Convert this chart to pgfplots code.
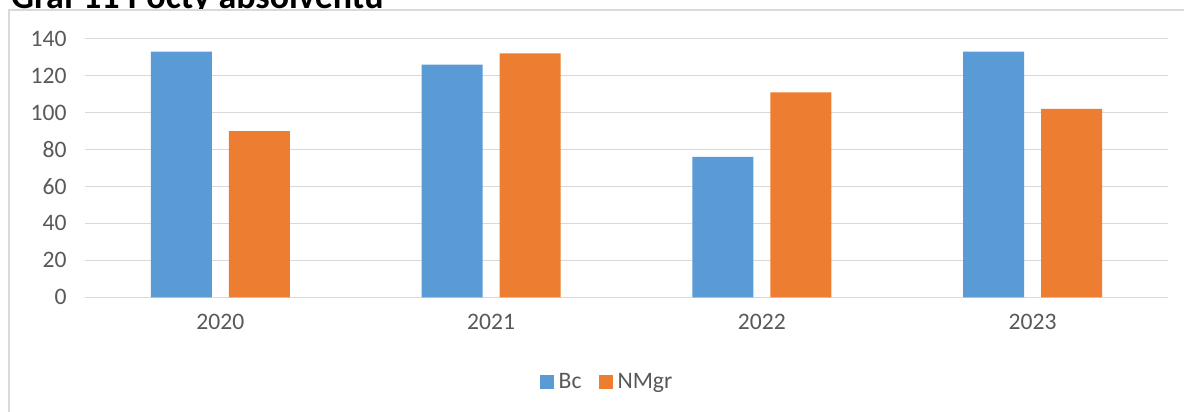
\documentclass[border=0pt]{standalone}
\usepackage{fontspec}
\setmainfont{Carlito}
\usepackage{pgfplots}
\pgfplotsset{compat=1.18}
\definecolor{bcblue}{HTML}{5B9BD5}
\definecolor{nmorange}{HTML}{ED7D31}
\definecolor{gridgray}{HTML}{D9D9D9}
\definecolor{txtgray}{HTML}{595959}
\begin{document}
\begin{tikzpicture}[x=1pt,y=1pt]
\useasboundingbox (0,0) rectangle (1184,412);
\clip (0,0) rectangle (1184,412);
\node[anchor=base west, inner sep=0pt, font=\fontsize{36}{40}\selectfont\bfseries] at (11,403.5) {Graf 11 Počty absolventů};
\filldraw[fill=white, draw=gridgray, line width=1.3pt] (9,402) rectangle (1210,-20);
\begin{axis}[
 at={(85pt,114.7pt)}, anchor=south west,
 scale only axis, width=1083pt, height=258.6pt,
 xmin=-0.5, xmax=3.5, ymin=0, ymax=140,
 ybar=17pt, bar width=61pt,
 xtick={0,1,2,3}, xticklabels={2020,2021,2022,2023},
 ytick={0,20,40,60,80,100,120,140},
 ymajorgrids, grid style={gridgray, line width=1.3pt},
 axis line style={draw=none},
 major tick length=0pt,
 tick label style={font=\fontsize{23.6}{28}\selectfont, text=txtgray},
 /pgf/number format/assume math mode=true,
 xticklabel style={yshift=-13pt},
 yticklabel style={xshift=-15pt},
 legend style={at={(0.482,-0.3275)}, anchor=center, draw=none, fill=none,
   legend columns=2, font=\fontsize{23.6}{28}\selectfont, text=txtgray,
   /tikz/every odd column/.append style={column sep=3pt},
   /tikz/every even column/.append style={column sep=15pt}},
 legend image code/.code={\fill[#1] (0pt,-7pt) rectangle (14pt,7pt);},
]
\addplot[fill=bcblue, draw=none] coordinates {(0,133) (1,126) (2,76) (3,133)};
\addplot[fill=nmorange, draw=none] coordinates {(0,90) (1,132) (2,111) (3,102)};
\legend{Bc,NMgr}
\end{axis}
\end{tikzpicture}
\end{document}
